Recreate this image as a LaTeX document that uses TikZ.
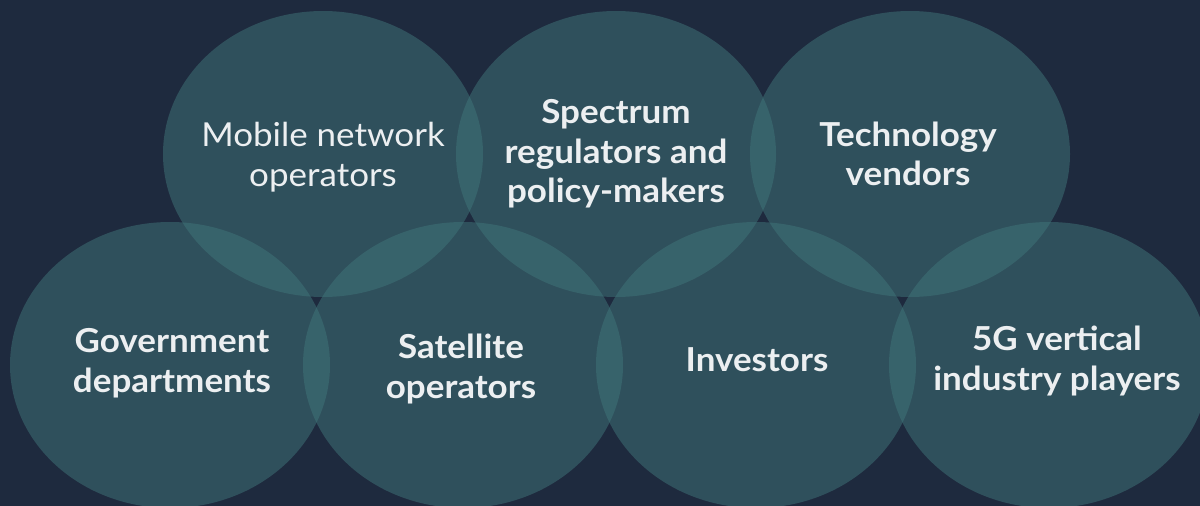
\documentclass[tikz,border=0pt]{standalone}
\usepackage{fontspec}
\setmainfont{Lato}[FakeStretch=1.06]
\usetikzlibrary{shapes.geometric}
\definecolor{bgcol}{RGB}{30,42,62}
\definecolor{discfill}{RGB}{64,118,122}
\definecolor{txtcol}{RGB}{236,239,241}
\begin{document}
\begin{tikzpicture}[x=1pt,y=-1pt,
  stakeholder/.style={ellipse, minimum width=320pt, minimum height=286pt, inner sep=0pt, draw=none, fill=discfill, fill opacity=0.5},
  lbl/.style={text=txtcol, align=center, inner sep=0pt, font=\fontsize{33}{39.5}\selectfont\bfseries},
  lbllight/.style={lbl, font=\fontsize{33}{39.5}\selectfont}]
\fill[bgcol] (0,0) rectangle (1200,506);
\useasboundingbox (0,0) rectangle (1200,506);
% circles
\node[stakeholder] (c1) at (323,154) {};
\node[stakeholder] (c2) at (616,154) {};
\node[stakeholder] (c3) at (910,154) {};
\node[stakeholder] (c4) at (170,365) {};
\node[stakeholder] (c5) at (463,365) {};
\node[stakeholder] (c6) at (756,365) {};
\node[stakeholder] (c7) at (1049,365) {};
% labels
\node[lbllight] (t1) at (323,157) {Mobile network\\operators};
\node[lbl] (t2) at (616,154) {Spectrum\\regulators and\\policy-makers};
\node[lbl] (t3) at (908,154) {Technology\\vendors};
\node[lbl] (t4) at (172,363) {Government\\departments};
\node[lbl] (t5) at (461,369) {Satellite\\operators};
\node[lbl] (t6) at (757,360) {Investors};
\node[lbl] (t7) at (1057,361) {5G vertical\\industry players};
\end{tikzpicture}
\end{document}
